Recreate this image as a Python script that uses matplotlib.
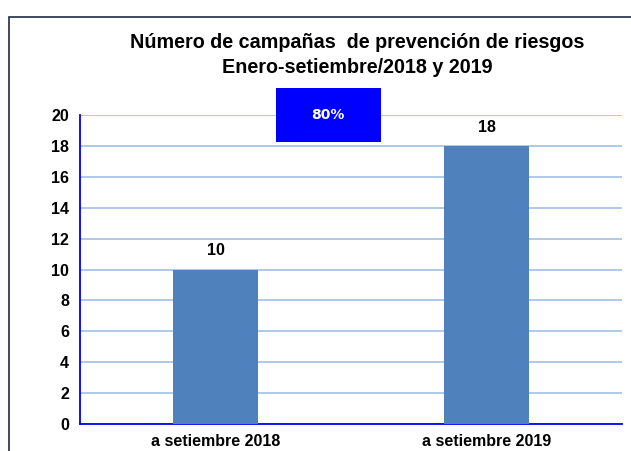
import matplotlib.pyplot as plt
from matplotlib.patches import Rectangle

categories = ["a setiembre 2018", "a setiembre 2019"]
values = [10, 18]
yticks = [0, 2, 4, 6, 8, 10, 12, 14, 16, 18, 20]
title = "Número de campañas  de prevención de riesgos\nEnero-setiembre/2018 y 2019"
box_label = "80%"

plt.rcParams['font.family'] = ['Liberation Sans', 'DejaVu Sans']

fig = plt.figure(figsize=(6.31, 4.51), dpi=100)
W, H = 631, 451

# outer frame
fig.patches.append(Rectangle((9 / W, -0.05), 1.2, 1 - 17 / H + 0.05, transform=fig.transFigure,
                             fill=False, edgecolor="#1f2a44", linewidth=1.2))

ax = fig.add_axes([80 / W, 1 - 424 / H, 542 / W, (424 - 115) / H])
x = range(len(categories))
ax.bar(x, values, width=0.31, color="#4f81bd", zorder=3)
ax.set_xlim(-0.5, 1.5)
ax.set_ylim(0, 20)
ax.set_yticks(yticks)
ax.set_xticks(list(x))
ax.set_xticklabels(categories, fontsize=11.5, fontweight="bold")
ax.set_yticklabels([str(t) for t in yticks], fontsize=11.5, fontweight="bold")
ax.tick_params(length=0, pad=8)
ax.tick_params(axis="x", pad=7)
ax.grid(axis="y", color="#a9c5e8", linewidth=1.3, zorder=0)
for s in ["top", "right"]:
    ax.spines[s].set_visible(False)
ax.spines["left"].set_color("#0000ff")
ax.spines["bottom"].set_color("#0000ff")
ax.spines["left"].set_linewidth(1.3)
ax.spines["bottom"].set_linewidth(1.3)

for i, v in enumerate(values):
    ax.annotate(str(v), (i, v), xytext=(0, 8), textcoords="offset points",
                ha="center", va="bottom", fontsize=11.5, fontweight="bold")

fig.text(357 / W, 1 - 55 / H, title, ha="center", va="center", fontsize=14.2,
         fontweight="bold", linespacing=1.45)

fig.patches.append(Rectangle((276 / W, 1 - 142 / H), 105 / W, 54 / H, transform=fig.transFigure,
                             facecolor="#0000ff", edgecolor="none", zorder=5))
fig.text(328 / W, 1 - 115 / H, box_label, ha="center", va="center", color="white",
         fontsize=10, fontweight="bold", family=["DejaVu Sans"], zorder=6)

fig.savefig("out.png", dpi=100)
